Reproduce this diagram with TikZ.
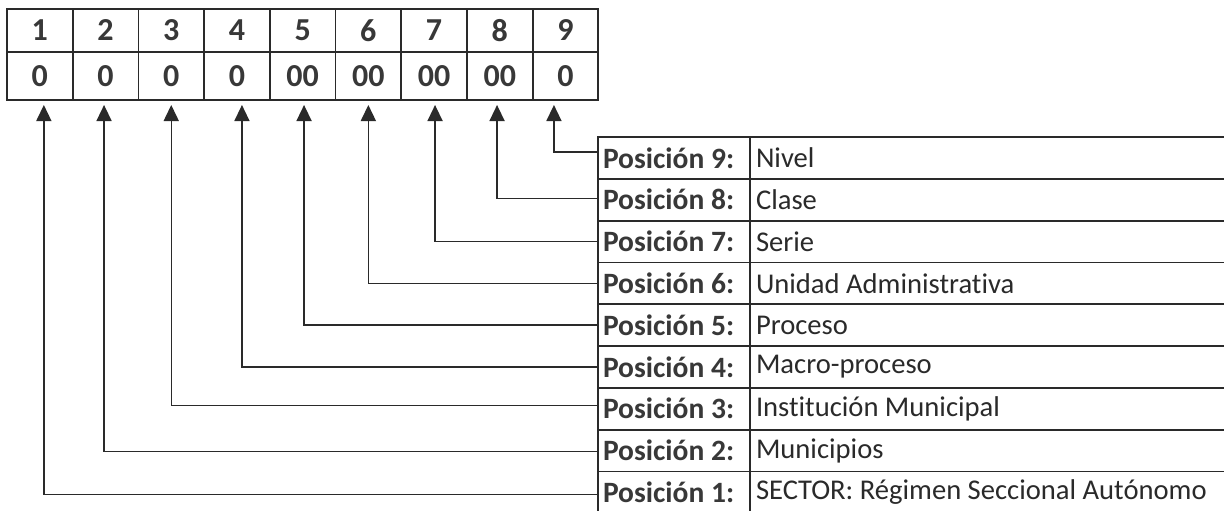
\documentclass[tikz,border=0pt]{standalone}
\usepackage{fontspec}
\setmainfont{Carlito}[Ligatures=NoCommon]
\usetikzlibrary{arrows.meta}
\definecolor{ink}{HTML}{2A2A2A}
\definecolor{boldink}{HTML}{383838}
\tikzset{
  cellbase/.style={draw=ink, line width=1.8pt, rectangle, inner sep=0pt, outer sep=0pt},
  hcell/.style={cellbase, minimum width=65.7pt, minimum height=43pt, text=boldink,
    font=\fontsize{32}{34}\selectfont\bfseries},
  vcell/.style={cellbase, minimum width=65.7pt, minimum height=48pt, text=boldink,
    font=\fontsize{32}{34}\selectfont\bfseries},
  lcell/.style={cellbase, minimum width=152pt, minimum height=41.8pt, text width=142pt,
    align=flush left, text=boldink, font=\fontsize{29.5}{31}\selectfont\bfseries},
  rcell/.style={cellbase, minimum width=480pt, minimum height=41.8pt, text width=468pt,
    align=flush left, text=ink, font=\fontsize{28.6}{31}\selectfont},
  conn/.style={draw=ink, line width=1.5pt, -{Triangle[width=15pt,length=16pt]}}
}
\begin{document}
\begin{tikzpicture}[x=1pt,y=-1pt]
\useasboundingbox (0,0) rectangle (1224,511);
\clip (0,0) rectangle (1224,511);
\fill[white] (0,0) rectangle (1224,511);
% top table
\foreach \i/\v in {1/0,2/0,3/0,4/0,5/00,6/00,7/00,8/00,9/0}{
  \node[hcell] (h\i) at ({39.85+65.7*(\i-1)},30.5) {\i};
  \node[vcell] (v\i) at ({39.85+65.7*(\i-1)},76) {\v};
}
% label table
\foreach \p/\t [count=\k from 0] in {9/Nivel,8/Clase,7/Serie,6/Unidad Administrativa,5/Proceso,4/Macro-proceso,3/Institución Municipal,2/Municipios,1/SECTOR: Régimen Seccional Autónomo}{
  \node[lcell] (l\p) at (674,{137+41.8*\k+20.9}) {Posición \p:};
  \node[rcell] (r\p) at (990,{137+41.8*\k+20.9}) {\t};
}
% connectors
\foreach \p/\dx/\dy in {9/-11.5/-6,8/-2.7/-1,7/1/0,6/0/0,5/1.4/0,4/5/0,3/0/-3,2/-1.5/1,1/4/2}{
  \draw[conn] ([shift={(0,\dy)}]l\p.west) -| ([shift={(\dx,5)}]v\p.south);
}
\end{tikzpicture}
\end{document}
